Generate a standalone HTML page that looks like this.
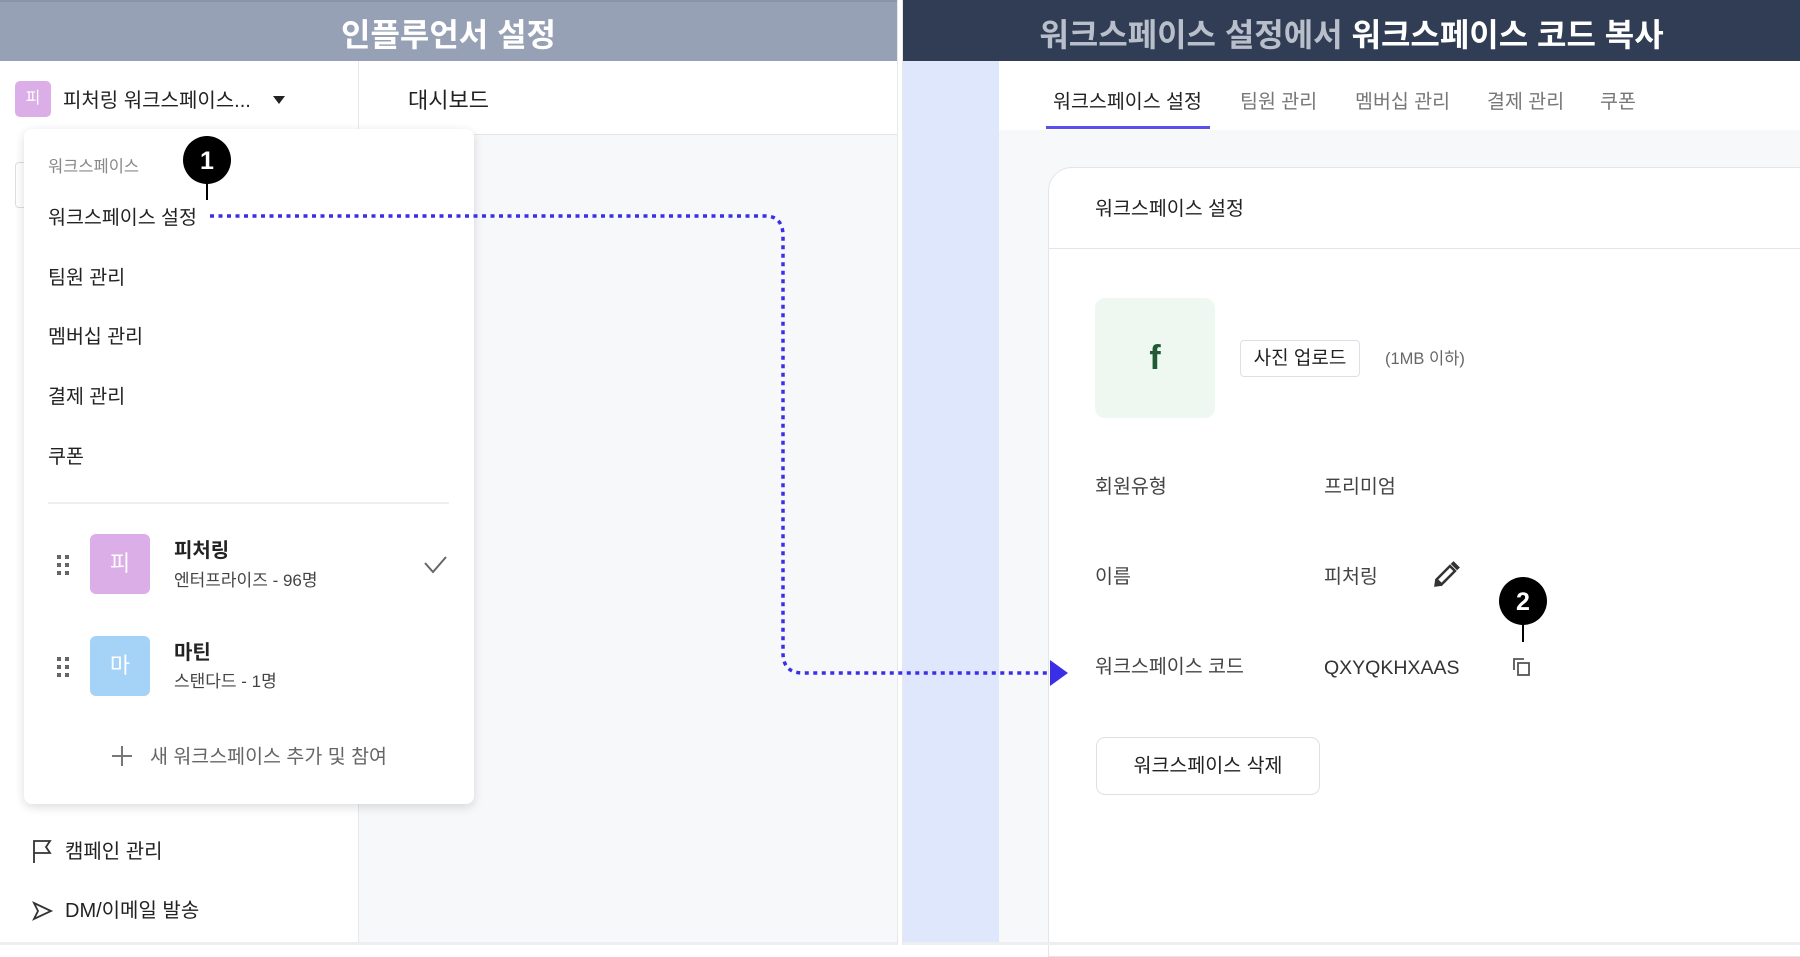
<!DOCTYPE html>
<html><head><meta charset="utf-8">
<style>
*{margin:0;padding:0;box-sizing:border-box}
body{width:1800px;height:945px;position:relative;overflow:hidden;background:#fff;font-family:"Liberation Sans","Noto Sans CJK KR",sans-serif;color:#222}
.a{position:absolute;white-space:nowrap}
.t{position:absolute;white-space:nowrap;line-height:30px;height:30px}
</style></head><body>
<!-- LEFT PANEL -->
<div class="a" style="left:0;top:0;width:897px;height:61px;background:#97a1b5;border-top:2px solid #8a94a8"></div>
<div class="t" style="left:0;width:897px;top:46px;margin-top:-31px;line-height:40px;height:40px;text-align:center;color:#fff;font-size:32px;font-weight:bold">인플루언서 설정</div>
<div class="a" style="left:0;top:61px;width:897px;height:884px;background:#f7f8fa;border-left:2px solid #eceef1"></div>
<div class="a" style="left:0;top:61px;width:359px;height:884px;background:#fff;border-right:1px solid #e6e8ec"></div>
<div class="a" style="left:359px;top:61px;width:538px;height:74px;background:#fff;border-bottom:1px solid #e4e6ea"></div>
<div class="t" style="left:408px;top:86px;font-size:22px;color:#222">대시보드</div>
<div class="a" style="left:15px;top:81px;width:36px;height:36px;border-radius:5px;background:#dcaee8;color:#fff;font-size:16px;text-align:center;line-height:36px">피</div>
<div class="t" style="left:63px;top:86px;font-size:20px;color:#222">피처링 워크스페이스...</div>
<div class="a" style="left:273px;top:96px;width:0;height:0;border-left:6px solid transparent;border-right:6px solid transparent;border-top:8px solid #222"></div>
<div class="a" style="left:15px;top:162px;width:20px;height:46px;border:1px solid #ddd;border-radius:4px"></div>
<!-- dropdown -->
<div class="a" style="left:24px;top:129px;width:450px;height:675px;background:#fff;border-radius:8px;box-shadow:0 3px 10px rgba(0,0,0,0.14)"></div>
<div class="t" style="left:48px;top:152px;font-size:16.5px;color:#888">워크스페이스</div>
<div class="t" style="left:48px;top:203px;font-size:19.5px">워크스페이스 설정</div>
<div class="t" style="left:48px;top:263px;font-size:19.5px">팀원 관리</div>
<div class="t" style="left:48px;top:322px;font-size:19.5px">멤버십 관리</div>
<div class="t" style="left:48px;top:382px;font-size:19.5px">결제 관리</div>
<div class="t" style="left:48px;top:442px;font-size:19.5px">쿠폰</div>
<div class="a" style="left:48px;top:502px;width:401px;height:2px;background:#eceef1"></div>
<div class="a" style="left:90px;top:534px;width:60px;height:60px;border-radius:6px;background:#dcaee8;color:#fff;font-size:22px;text-align:center;line-height:60px">피</div>
<div class="a" style="left:90px;top:636px;width:60px;height:60px;border-radius:6px;background:#a4d3f7;color:#fff;font-size:22px;text-align:center;line-height:60px">마</div>
<div class="t" style="left:174px;top:536px;font-size:20px;font-weight:bold">피처링</div>
<div class="t" style="left:174px;top:566px;font-size:17px;color:#444">엔터프라이즈 - 96명</div>
<div class="t" style="left:174px;top:638px;font-size:20px;font-weight:bold">마틴</div>
<div class="t" style="left:174px;top:667px;font-size:17px;color:#444">스탠다드 - 1명</div>
<div class="t" style="left:150px;top:742px;font-size:19.5px;color:#666">새 워크스페이스 추가 및 참여</div>
<div class="t" style="left:65px;top:837px;font-size:20px;color:#222">캠페인 관리</div>
<div class="t" style="left:65px;top:896px;font-size:20px;color:#222">DM/이메일 발송</div>

<!-- RIGHT PANEL -->
<div class="a" style="left:903px;top:0;width:897px;height:61px;background:#313d55"></div>
<div class="t" style="left:903px;width:897px;top:46px;margin-top:-31px;line-height:40px;height:40px;text-align:center;font-size:32px;font-weight:bold;color:#fff"><span style="color:#b9bfca">워크스페이스 설정에서</span> 워크스페이스 코드 복사</div>
<div class="a" style="left:903px;top:61px;width:897px;height:884px;background:#f7f8fa"></div>
<div class="a" style="left:903px;top:61px;width:96px;height:884px;background:#dfe7fd"></div>
<div class="a" style="left:999px;top:61px;width:801px;height:69px;background:#fff"></div>
<div class="t" style="left:1053px;top:87px;font-size:19.5px;color:#222">워크스페이스 설정</div>
<div class="t" style="left:1240px;top:87px;font-size:19.5px;color:#777">팀원 관리</div>
<div class="t" style="left:1355px;top:87px;font-size:19.5px;color:#777">멤버십 관리</div>
<div class="t" style="left:1487px;top:87px;font-size:19.5px;color:#777">결제 관리</div>
<div class="t" style="left:1600px;top:87px;font-size:19.5px;color:#777">쿠폰</div>
<div class="a" style="left:1046px;top:126px;width:164px;height:3px;background:#5b4ff0"></div>
<div class="a" style="left:1048px;top:167px;width:760px;height:790px;background:#fff;border:1px solid #e3e5ea;border-radius:24px 0 0 0"></div>
<div class="a" style="left:1049px;top:248px;width:751px;height:1px;background:#e3e5ea"></div>
<div class="t" style="left:1095px;top:194px;font-size:19.5px;color:#222">워크스페이스 설정</div>
<div class="a" style="left:1095px;top:298px;width:120px;height:120px;border-radius:10px;background:#eef8f0;color:#235a36;font-size:34px;font-weight:bold;text-align:center;line-height:120px">f</div>
<div class="a" style="left:1240px;top:340px;width:120px;height:37px;border:1px solid #dde0e6;border-radius:4px;font-size:19px;text-align:center;line-height:35px">사진 업로드</div>
<div class="t" style="left:1385px;top:344px;font-size:16.5px;color:#666">(1MB 이하)</div>
<div class="t" style="left:1095px;top:472px;font-size:19.5px;color:#444">회원유형</div>
<div class="t" style="left:1324px;top:472px;font-size:19.5px;color:#444">프리미엄</div>
<div class="t" style="left:1095px;top:562px;font-size:19.5px;color:#444">이름</div>
<div class="t" style="left:1324px;top:562px;font-size:19.5px;color:#444">피처링</div>
<div class="t" style="left:1095px;top:652px;font-size:19.5px;color:#444">워크스페이스 코드</div>
<div class="t" style="left:1324px;top:653px;font-size:19.5px;color:#333">QXYQKHXAAS</div>
<div class="a" style="left:1096px;top:737px;width:224px;height:58px;border:1px solid #dde0e6;border-radius:9px;font-size:19.5px;text-align:center;line-height:56px">워크스페이스 삭제</div>
<div class="a" style="left:0;top:942px;width:1800px;height:3px;background:#eceef1"></div>
<div class="a" style="left:897px;top:0;width:6px;height:945px;background:#fff;border-left:1px solid #e6e8ec;border-right:1px solid #e6e8ec"></div>

<svg class="a" style="left:0;top:0" width="1800" height="945">
 <g fill="#666">
  <rect x="57" y="555" width="4" height="4"/><rect x="65" y="555" width="4" height="4"/>
  <rect x="57" y="563" width="4" height="4"/><rect x="65" y="563" width="4" height="4"/>
  <rect x="57" y="571" width="4" height="4"/><rect x="65" y="571" width="4" height="4"/>
  <rect x="57" y="657" width="4" height="4"/><rect x="65" y="657" width="4" height="4"/>
  <rect x="57" y="665" width="4" height="4"/><rect x="65" y="665" width="4" height="4"/>
  <rect x="57" y="673" width="4" height="4"/><rect x="65" y="673" width="4" height="4"/>
 </g>
 <polyline points="425,563 433,572 446,557" fill="none" stroke="#666" stroke-width="2"/>
 <path d="M122,746 V766 M112,756 H132" stroke="#777" stroke-width="2"/>
 <path d="M34,863 V841 H50 L46,847 L50,853 H34" fill="none" stroke="#333" stroke-width="1.8"/>
 <path d="M34,903 L51,911 L34,919 L38,911 Z" fill="none" stroke="#333" stroke-width="1.8"/>
 <!-- dotted connector -->
 <path d="M210,216 H765 Q783,216 783,236 V653 Q783,673 803,673 H1052" fill="none" stroke="#3a2fe6" stroke-width="3.5" stroke-dasharray="4 4.5"/>
 <polygon points="1050,660 1068,673 1050,686" fill="#3a2fe6"/>
 <!-- badge 1 -->
 <line x1="207" y1="180" x2="207" y2="200" stroke="#000" stroke-width="2"/>
 <circle cx="207" cy="160" r="24" fill="#000"/>
 <text x="207" y="169" fill="#fff" font-size="25" font-weight="bold" text-anchor="middle" font-family="Liberation Sans,sans-serif">1</text>
 <!-- pencil -->
 <g transform="translate(1444,577) rotate(45)">
  <rect x="-3.5" y="-12" width="7" height="19" fill="none" stroke="#333" stroke-width="2.5"/>
  <rect x="-4.5" y="-18" width="9" height="4" fill="#333"/>
  <polygon points="-4.5,8 4.5,8 0,14" fill="#333"/>
 </g>
 <!-- copy icon -->
 <path d="M1514,670 V659 H1524" fill="none" stroke="#555" stroke-width="1.8"/>
 <rect x="1518" y="663" width="11" height="12" fill="none" stroke="#555" stroke-width="1.8"/>
 <!-- badge 2 -->
 <line x1="1523" y1="620" x2="1523" y2="642" stroke="#000" stroke-width="2"/>
 <circle cx="1523" cy="601" r="24" fill="#000"/>
 <text x="1523" y="610" fill="#fff" font-size="25" font-weight="bold" text-anchor="middle" font-family="Liberation Sans,sans-serif">2</text>
</svg>
</body></html>
